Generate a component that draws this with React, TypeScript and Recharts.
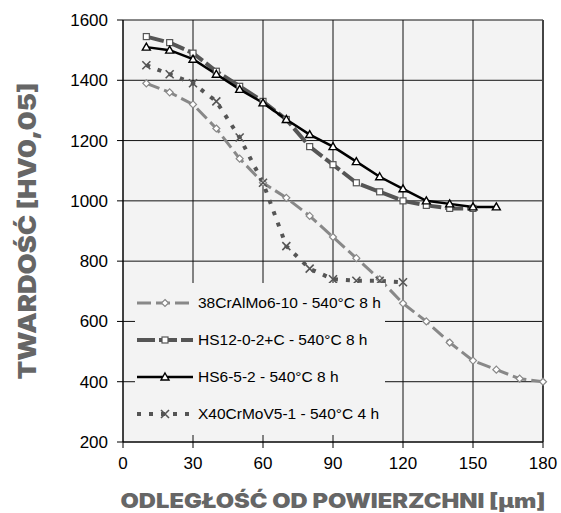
import { LineChart, Line, XAxis, YAxis, CartesianGrid, Legend, Label, ReferenceLine } from 'recharts';

const distances = [10, 20, 30, 40, 50, 60, 70, 80, 90, 100, 110, 120, 130, 140, 150, 160, 170, 180];
const crAlMo = [1390, 1360, 1320, 1240, 1140, 1060, 1010, 950, 880, 810, 740, 660, 600, 530, 470, 440, 410, 400];
const hs12 = [1545, 1525, 1490, 1430, 1380, 1330, 1270, 1180, 1120, 1060, 1030, 1000, 985, 975, 975];
const hs6 = [1510, 1500, 1470, 1420, 1370, 1325, 1270, 1220, 1180, 1130, 1080, 1040, 1000, 990, 980, 980];
const x40 = [1450, 1420, 1390, 1330, 1210, 1060, 850, 775, 740, 735, 735, 730];

const xTicks = [0, 30, 60, 90, 120, 150, 180];
const yTicks = [200, 400, 600, 800, 1000, 1200, 1400, 1600];

const data = distances.map((d, i) => ({
    d,
    crAlMo: crAlMo[i],
    hs12: hs12[i],
    hs6: hs6[i],
    x40: x40[i],
}));

type Shape = 'diamond' | 'square' | 'triangle' | 'cross';

const SERIES: { key: string; name: string; color: string; width: number; dash?: string; shape: Shape }[] = [
    { key: 'crAlMo', name: '38CrAlMo6-10 - 540°C 8 h', color: '#888888', width: 3, dash: '14 5', shape: 'diamond' },
    { key: 'hs12', name: 'HS12-0-2+C - 540°C 8 h', color: '#555555', width: 4, dash: '18 4', shape: 'square' },
    { key: 'hs6', name: 'HS6-5-2 - 540°C 8 h', color: '#000000', width: 2.5, shape: 'triangle' },
    { key: 'x40', name: 'X40CrMoV5-1 - 540°C 4 h', color: '#555555', width: 4, dash: '4 8', shape: 'cross' },
];

function marker(shape: Shape, cx: number, cy: number, color: string, key?: string) {
    switch (shape) {
        case 'diamond':
            return <path key={key} d={`M${cx},${cy - 3.5}L${cx + 3.5},${cy}L${cx},${cy + 3.5}L${cx - 3.5},${cy}Z`} fill="#fff" stroke={color} strokeWidth={1.2} />;
        case 'square':
            return <rect key={key} x={cx - 3} y={cy - 3} width={6} height={6} fill="#fff" stroke={color} strokeWidth={1.2} />;
        case 'triangle':
            return <path key={key} d={`M${cx},${cy - 4}L${cx + 4},${cy + 3}L${cx - 4},${cy + 3}Z`} fill="#fff" stroke={color} strokeWidth={1.4} />;
        default:
            return (
                <path key={key} d={`M${cx - 4},${cy - 4}L${cx + 4},${cy + 4}M${cx + 4},${cy - 4}L${cx - 4},${cy + 4}`} stroke={color} strokeWidth={1.6} fill="none" />
            );
    }
}

function makeDot(shape: Shape, color: string) {
    return (props: any) => {
        const { cx, cy, index } = props;
        if (cx == null || cy == null || props.value == null) return <g key={`e-${index}`} />;
        return marker(shape, cx, cy, color, `m-${index}`);
    };
}

function LegendBox() {
    return (
        <svg width={250} height={152} style={{ display: 'block', background: '#f3f3f3', overflow: 'visible' }}>
            {SERIES.map((s, i) => {
                const y = 20 + i * 37;
                return (
                    <g key={s.key}>
                        <line x1={2} x2={58} y1={y} y2={y} stroke={s.color} strokeWidth={s.width} strokeDasharray={s.dash} />
                        {marker(s.shape, 30, y, s.color)}
                        <text x={63} y={y} dy="0.35em" fontSize={15.5} fontFamily="'Liberation Sans', Arial, sans-serif" fill="#000">
                            {s.name}
                        </text>
                    </g>
                );
            })}
        </svg>
    );
}

export default function App() {
    const tickFont = "'Liberation Sans', Arial, sans-serif";
    return (
        <div style={{ position: 'absolute', left: 0, top: 0, width: 561, height: 513, background: '#fff' }}>
            <LineChart width={561} height={513} data={data} margin={{ top: 20, right: 18, bottom: 41, left: 63 }}>
                <CartesianGrid stroke="#111" strokeWidth={1} fill="#f3f3f3" />
                <XAxis
                    dataKey="d"
                    type="number"
                    domain={[0, 180]}
                    ticks={xTicks}
                    height={30}
                    tickSize={6}
                    tickMargin={9}
                    stroke="#000"
                    tick={{ fill: '#000', fontSize: 17, fontFamily: "'Liberation Sans Narrow', 'Liberation Sans', Arial, sans-serif" }}
                >
                    <Label
                        content={(p: any) => {
                            const vb = p.viewBox;
                            return (
                                <text
                                    x={vb.x + vb.width / 2}
                                    y={508}
                                    textAnchor="middle"
                                    fontFamily="Inter, sans-serif"
                                    fontWeight={900}
                                    fontSize={20}
                                    fill="#666"
                                    textLength={425}
                                    lengthAdjust="spacingAndGlyphs"
                                >
                                    ODLEGŁOŚĆ OD POWIERZCHNI [µm]
                                </text>
                            );
                        }}
                    />
                </XAxis>
                <YAxis
                    type="number"
                    domain={[200, 1600]}
                    ticks={yTicks}
                    width={60}
                    tickSize={6}
                    tickMargin={9}
                    stroke="#000"
                    tick={{ fill: '#000', fontSize: 17, fontFamily: tickFont }}
                >
                    <Label
                        content={(p: any) => {
                            const vb = p.viewBox;
                            const cy = vb.y + vb.height / 2;
                            return (
                                <text
                                    x={27}
                                    y={cy}
                                    transform={`rotate(-90, 27, ${cy})`}
                                    textAnchor="middle"
                                    dominantBaseline="central"
                                    fontFamily="Inter, sans-serif"
                                    fontWeight={900}
                                    fontSize={24}
                                    fill="#666"
                                    textLength={297}
                                    lengthAdjust="spacingAndGlyphs"
                                >
                                    TWARDOŚĆ [HV0,05]
                                </text>
                            );
                        }}
                    />
                </YAxis>
                <ReferenceLine x={180} stroke="#444" strokeWidth={2} />
                {SERIES.map((s) => (
                    <Line
                        key={s.key}
                        dataKey={s.key}
                        name={s.name}
                        stroke={s.color}
                        strokeWidth={s.width}
                        strokeDasharray={s.dash}
                        dot={makeDot(s.shape, s.color)}
                        activeDot={false}
                        isAnimationActive={false}
                        legendType="none"
                    />
                ))}
                <Legend
                    layout="vertical"
                    align="center"
                    verticalAlign="middle"
                    content={() => <LegendBox />}
                    wrapperStyle={{ left: 135, top: 283, width: 250, height: 152 }}
                />
            </LineChart>
        </div>
    );
}
